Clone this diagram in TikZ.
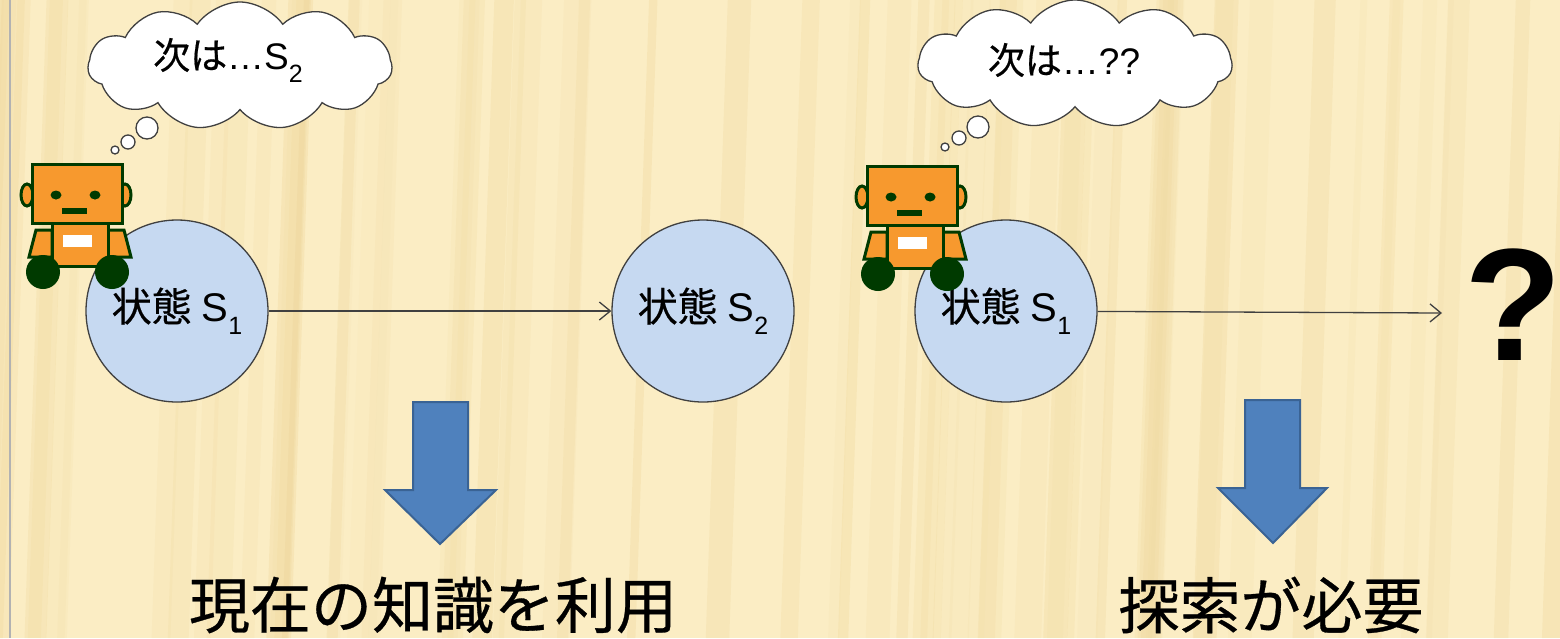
\documentclass[tikz,border=0pt]{standalone}
\usepackage{fontspec}
\setmainfont{Noto Sans CJK JP}[FakeBold=0.5]
\newfontfamily\latin{Liberation Sans}
\newfontfamily\latinheavy{Liberation Sans Bold}
\usetikzlibrary{arrows.meta,shapes.symbols}

\definecolor{paper}{HTML}{FBEDC4}
\definecolor{grain}{HTML}{EDD393}
\definecolor{stateblue}{HTML}{C6D9F1}
\definecolor{ringgrey}{HTML}{404040}
\definecolor{blockblue}{HTML}{4F81BD}
\definecolor{blockedge}{HTML}{3A6394}
\definecolor{botorange}{HTML}{F7992E}
\definecolor{botgreen}{HTML}{003A00}

\newcommand\lowidx[1]{\raisebox{-13pt}{\fontsize{25}{25}\selectfont\latin #1}}

\tikzset{
  statenode/.style={circle, draw=ringgrey, line width=1.3pt, fill=stateblue,
    minimum size=182pt, inner sep=0pt, font=\fontsize{40}{40}\selectfont},
  conn/.style={draw=ringgrey, line width=1.3pt,
    -{Straight Barb[length=11pt,width=18pt,line width=1.3pt]}},
  thought/.style={cloud, cloud puffs=11, cloud puff arc=110, cloud ignores aspect,
    draw=ringgrey, line width=1.3pt, fill=white, inner sep=0pt},
  bubble/.style={draw=ringgrey, line width=1.3pt, fill=white},
  thinktext/.style={font=\fontsize{37}{37}\selectfont, inner sep=0pt},
  bigtext/.style={font=\fontsize{61}{61}\selectfont, inner sep=0pt},
  blockarrow/.style={fill=blockblue, draw=blockedge, line width=2pt, line join=miter},
  botline/.style={draw=botgreen, line width=3pt},
  robot/.pic={
    % ears behind the head
    \filldraw[botline, fill=botorange] (27,195) ellipse [x radius=6pt, y radius=11pt];
    \filldraw[botline, fill=botorange] (125,195) ellipse [x radius=6pt, y radius=11pt];
    % arms
    \filldraw[botline, fill=botorange] (36,230) -- (52,230) -- (52,257) -- (29,257) -- cycle;
    \filldraw[botline, fill=botorange] (108,230) -- (124,230) -- (131,257) -- (108,257) -- cycle;
    % body with badge
    \filldraw[botline, fill=botorange] (52,223) rectangle (108,266);
    \fill[white] (63,235) rectangle (92,247);
    % head with face
    \filldraw[botline, fill=botorange] (32,164) rectangle (122,223);
    \fill[botgreen] (56,195) ellipse [x radius=5.5pt, y radius=4.5pt];
    \fill[botgreen] (95,195) ellipse [x radius=5.5pt, y radius=4.5pt];
    \fill[botgreen] (62,208) rectangle (87,214);
    % wheels
    \fill[botgreen] (43,272) circle (17pt);
    \fill[botgreen] (112,272) circle (17pt);
  }
}

\begin{document}
\begin{tikzpicture}[x=1pt, y=-1pt]
\useasboundingbox (0,0) rectangle (1560,638);

% wood-grain paper
\begin{scope}
  \clip (0,0) rectangle (1560,638);
  \fill[paper] (0,0) rectangle (1560,638);
  \pgfmathsetseed{11}
  \foreach \i in {1,...,70}{
    \pgfmathsetmacro\xx{rnd*1620-30}
    \pgfmathsetmacro\ww{6+rnd*22}
    \pgfmathsetmacro\oo{0.06+rnd*0.22}
    \fill[grain, opacity=\oo] (\xx,0) -- (\xx+\ww,0) -- (\xx+\ww-22,638) -- (\xx-22,638) -- cycle;
  }
  \draw[black!30, line width=2pt] (10,0) -- (10,638);
\end{scope}

% left scene: known next state
\node[thought, minimum width=304pt, minimum height=128pt] (c1) at (240,66) {};
\node[thinktext] (c1t) at (228,60) {次は{\latin …S}\lowidx{2}};
\draw[bubble] (147,128) circle (11pt);
\draw[bubble] (128,142) circle (7pt);
\draw[bubble] (115,150) circle (4pt);

\node[statenode] (s1) at (177,311) {状態\hspace{10pt}{\latin S}\lowidx{1}};
\node[statenode] (s2) at (703,311) {状態\hspace{10pt}{\latin S}\lowidx{2}};
\draw[conn] (s1) -- (s2);
\pic at (0,0) {robot};

\draw[blockarrow] (413,402) -- (468,402) -- (468,490) -- (496,490) -- (440,544)
  -- (385,490) -- (413,490) -- cycle;
\node[bigtext] (u1) at (433,605) {現在の知識を利用};

% right scene: unknown next state
\node[thought, minimum width=314pt, minimum height=128pt] (c2) at (1075,64) {};
\node[thinktext] (c2t) at (1064,60) {次は{\latin …??}};
\draw[bubble] (978,127) circle (11pt);
\draw[bubble] (959,138) circle (7pt);
\draw[bubble] (945,147) circle (4pt);

\node[statenode] (s3) at (1006,311) {状態\hspace{10pt}{\latin S}\lowidx{1}};
\coordinate (q) at (1442,313);
\draw[conn] (s3) -- (q);
\node[inner sep=0pt, font=\fontsize{160}{160}\selectfont\latinheavy] (qm) at (1513,305) {?};
\pic at (835,2) {robot};

\draw[blockarrow] (1245,400) -- (1300,400) -- (1300,488) -- (1327,488) -- (1273,543)
  -- (1218,488) -- (1245,488) -- cycle;
\node[bigtext] (u2) at (1271,605) {探索が必要};
\end{tikzpicture}
\end{document}
